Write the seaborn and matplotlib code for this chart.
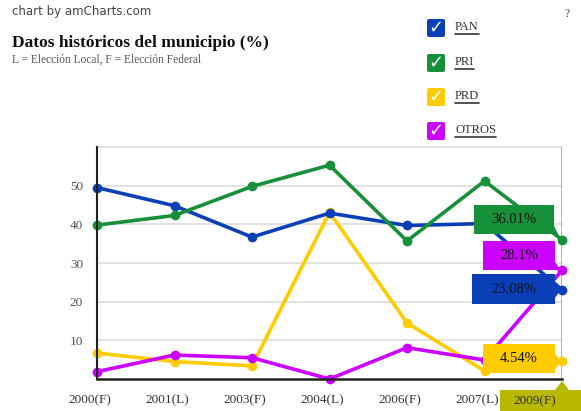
import matplotlib
matplotlib.use("Agg")
import matplotlib.pyplot as plt
import matplotlib.transforms as mtransforms
import seaborn as sns
import pandas as pd
from matplotlib.patches import FancyBboxPatch, Polygon

categories = ["2000(F)", "2001(L)", "2003(F)", "2004(L)", "2006(F)", "2007(L)", "2009(F)"]
pan = [49.5, 44.8, 36.7, 42.9, 39.7, 40.2, 23.08]
pri = [39.8, 42.3, 49.8, 55.3, 35.7, 51.2, 36.01]
prd = [6.7, 4.5, 3.4, 43.1, 14.5, 2.1, 4.54]
otros = [1.9, 6.2, 5.5, 0.0, 8.1, 4.9, 28.1]
series_names = ["PAN", "PRI", "PRD", "OTROS"]
colors = {"PAN": "#0a3fb8", "PRI": "#17903a", "PRD": "#ffcc00", "OTROS": "#cc00ff"}
last_labels = ["23.08%", "36.01%", "4.54%", "28.1%"]
yticks = [10, 20, 30, 40, 50]

sns.set_theme(style="white")
plt.rcParams['font.family'] = ['Liberation Serif', 'DejaVu Serif']

rows = []
for name, vals in zip(series_names, [pan, pri, prd, otros]):
    for i, v in enumerate(vals):
        rows.append({"pos": i, "cat": categories[i], "value": v, "serie": name})
df = pd.DataFrame(rows)

W, H = 581, 411
fig = plt.figure(figsize=(W / 100, H / 100), dpi=100)
ax = fig.add_axes([97 / W, 1 - 379 / H, (562 - 97) / W, (379 - 147) / H])

ax.set_ylim(0, 60)
ax.set_xlim(0, 6)
for y in yticks + [60]:
    ax.axhline(y, color="#dddddd", lw=1.2, zorder=0)

sns.lineplot(data=df, x="pos", y="value", hue="serie", palette=colors,
             hue_order=["PRD", "OTROS", "PAN", "PRI"], marker="o", markersize=7,
             markeredgewidth=0, linewidth=2.6, legend=False, ax=ax, clip_on=False)
for l in ax.lines:
    l.set_clip_on(False)

ax.set_xticks(range(len(categories)))
ax.set_xticklabels(categories[:-1] + [""], fontsize=9.5, color="#333333")
ax.set_yticks(yticks)
ax.set_yticklabels([str(v) for v in yticks], fontsize=9.5, color="#555555")
ax.set_xlabel("")
ax.set_ylabel("")
ax.tick_params(axis="x", direction="out", length=7, width=1.5, color="#222222", pad=4)
ax.tick_params(axis="y", direction="out", length=4, width=1, color="#222222", pad=6)
shift = mtransforms.ScaledTranslation(-7 / 100, 0, fig.dpi_scale_trans)
for lab in ax.get_xticklabels():
    lab.set_transform(lab.get_transform() + shift)
for s in ["top", "right"]:
    ax.spines[s].set_visible(False)
ax.spines["left"].set_linewidth(1.5)
ax.spines["left"].set_color("#222222")
ax.spines["bottom"].set_linewidth(1.8)
ax.spines["bottom"].set_color("#222222")

# cursor line and category balloon
olive = "#b8b800"
ax.axvline(6, color=olive, lw=1.2, zorder=1)
fig.canvas.draw()
def to_px(x, y):
    px, py = ax.transData.transform((x, y))
    return px, H - py

cx, cy = to_px(6, 0)
fig.patches.append(Polygon([[500 / W, 1 - 390 / H], [(cx - 7) / W, 1 - 390 / H], [cx / W, 1 - (cy + 2) / H],
                            [(cx + 7) / W, 1 - 390 / H], [1, 1 - 390 / H], [1, 0], [500 / W, 0]],
                           closed=True, transform=fig.transFigure, fc=olive, ec="none", zorder=5))
fig.text(535 / W, 1 - 401 / H, categories[-1], fontsize=9.5, color="#333333",
         ha="center", va="center", zorder=6)

# value balloons at the last point
boxes = {"PRI": (474, 205, 554, 234), "OTROS": (483, 241, 555, 270),
         "PAN": (472, 274, 555, 304), "PRD": (483, 344, 555, 373)}
series_vals = {"PAN": pan, "PRI": pri, "PRD": prd, "OTROS": otros}
for name, txt in zip(series_names, last_labels):
    px, py = to_px(6, series_vals[name][-1])
    x0, y0, x1, y1 = boxes[name]
    upper = min(max(py - 8, y0), y1 - 8)
    lower = min(max(py + 8, y0 + 8), y1)
    pts = [[x0, y0], [x1, y0], [x1, upper], [px - 1, py], [x1, lower], [x1, y1], [x0, y1]]
    fig.patches.append(Polygon([[a / W, 1 - b / H] for a, b in pts], closed=True,
                               transform=fig.transFigure, fc=colors[name], ec="none", zorder=5))
    fig.text((x0 + x1) / 2 / W, 1 - (y0 + y1) / 2 / H, txt, fontsize=10.5, color="#111111",
             ha="center", va="center", zorder=6)

# titles
fig.text(12 / W, 1 - 12 / H, "chart by amCharts.com", fontsize=8.5, color="#444444",
         family=["DejaVu Sans"], va="center", ha="left")
fig.text(567 / W, 1 - 14 / H, "?", fontsize=8.5, color="#444444", va="center", ha="center")
fig.text(12 / W, 1 - 43 / H, "Datos históricos del municipio (%)", fontsize=12.5,
         fontweight="bold", color="#111111", va="center", ha="left")
fig.text(12 / W, 1 - 60 / H, "L = Elección Local, F = Elección Federal", fontsize=8.3,
         color="#555555", va="center", ha="left")

# legend
leg_y = [28, 63, 97, 131]
for name, yy in zip(series_names, leg_y):
    box = FancyBboxPatch(((427) / W, 1 - (yy + 9) / H), 18 / W, 18 / H,
                         boxstyle="round,pad=0,rounding_size=0.004", transform=fig.transFigure,
                         fc=colors[name], ec="none")
    fig.patches.append(box)
    fig.text(436 / W, 1 - yy / H, "✓", fontsize=13, color="white", fontweight="bold",
             family=["DejaVu Sans"], ha="center", va="center")
    t = fig.text(455 / W, 1 - (yy - 1) / H, name, fontsize=9, color="#333333", ha="left", va="center")
    bb = t.get_window_extent(renderer=fig.canvas.get_renderer())
    fig.lines.append(plt.Line2D([455 / W, bb.x1 / W], [1 - (yy + 6) / H] * 2,
                                transform=fig.transFigure, color="#333333", lw=1.2))

fig.savefig("out.png", dpi=100)
